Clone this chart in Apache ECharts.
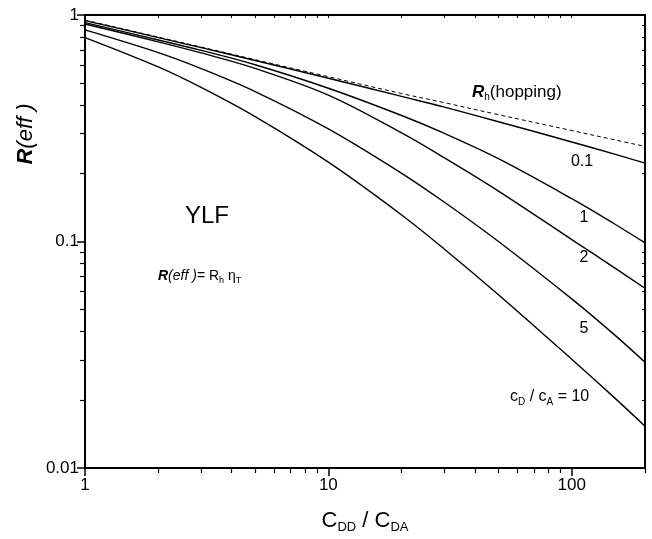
<!DOCTYPE html>
<html>
<head>
<meta charset="utf-8">
<script src="https://cdn.jsdelivr.net/npm/echarts@6/dist/echarts.min.js"></script>
<style>
  html, body { margin: 0; padding: 0; background: #fff; }
  #chart { width: 652px; height: 539px; }
</style>
</head>
<body>
<div id="chart"></div>
<script>
// C_DD / C_DA sample points
const ratioDD_DA = [1, 2, 3, 5, 10, 20, 30, 50, 100, 150, 200];

// R_h (pure hopping) and R(eff) for several c_D / c_A
const hopping = [0.95, 0.799, 0.722, 0.635, 0.534, 0.45, 0.41, 0.363, 0.309, 0.281, 0.263];
const conc01  = [0.945, 0.795, 0.718, 0.63, 0.526, 0.437, 0.392, 0.338, 0.275, 0.243, 0.222];
const conc1   = [0.925, 0.776, 0.698, 0.603, 0.475, 0.36, 0.300, 0.232, 0.1545, 0.1195, 0.0986];
const conc2   = [0.913, 0.761, 0.680, 0.581, 0.443, 0.3015, 0.234, 0.167, 0.102, 0.0765, 0.0622];
const conc5   = [0.859, 0.682, 0.580, 0.459, 0.314, 0.200, 0.149, 0.100, 0.0558, 0.0387, 0.0293];
const conc10  = [0.795, 0.590, 0.479, 0.356, 0.224, 0.131, 0.0925, 0.0582, 0.0302, 0.0204, 0.0153];

// axis ticks
const xMajorTicks = [1, 10, 100];
const xTickLabels = ['1', '10', '100'];
const xMinorTicks = [2, 3, 4, 5, 6, 7, 8, 9, 20, 30, 40, 50, 60, 70, 80, 90, 200];
const yMajorTicks = [0.01, 0.1, 1];
const yTickLabels = ['0.01', '0.1', '1'];
const yMinorTicks = [0.02, 0.03, 0.04, 0.05, 0.06, 0.07, 0.08, 0.09, 0.2, 0.3, 0.4, 0.5, 0.6, 0.7, 0.8, 0.9];

const FONT = '"Liberation Sans", Arial, Helvetica, sans-serif';
const INK = '#000';

function pairs(ys) { return ratioDD_DA.map((x, i) => [x, ys[i]]); }
function labelFor(values, labels) {
  return v => {
    const i = values.findIndex(t => Math.abs(Math.log10(t) - Math.log10(v)) < 1e-6);
    return i >= 0 ? labels[i] : '';
  };
}

function xAxisDef(opts) {
  return Object.assign({
    type: 'log', logBase: 10, min: 1, max: 200, gridIndex: 0,
    splitLine: { show: false }, minorTick: { show: false }, minorSplitLine: { show: false },
    axisLine: { show: false }, axisLabel: { show: false }, axisTick: { show: false }
  }, opts);
}
function yAxisDef(opts) {
  return Object.assign({
    type: 'log', logBase: 10, min: 0.01, max: 1, gridIndex: 0,
    splitLine: { show: false }, minorTick: { show: false }, minorSplitLine: { show: false },
    axisLine: { show: false }, axisLabel: { show: false }, axisTick: { show: false }
  }, opts);
}

const curveStyle = { color: INK, width: 1.4 };
function curve(name, ys, extra) {
  return Object.assign({
    name, type: 'line', xAxisIndex: 0, yAxisIndex: 0, data: pairs(ys),
    showSymbol: false, smooth: 0.35, silent: true,
    lineStyle: Object.assign({}, curveStyle), z: 5
  }, extra || {});
}

const chart = echarts.init(document.getElementById('chart'), null, { renderer: 'canvas' });

chart.setOption({
  animation: false,
  backgroundColor: '#fff',
  textStyle: { fontFamily: FONT, color: INK },
  grid: { left: 85, right: 7, top: 15, bottom: 69, containLabel: false },
  xAxis: [
    xAxisDef({
      position: 'bottom',
      axisLine: { show: true, onZero: false, lineStyle: { color: INK, width: 2 } },
      axisTick: { show: true, inside: false, length: 8, customValues: xMajorTicks, lineStyle: { color: INK, width: 1.5 } },
      axisLabel: { show: true, customValues: xMajorTicks, formatter: labelFor(xMajorTicks, xTickLabels),
                   fontSize: 17, color: INK, fontFamily: FONT, margin: 9 },
      name: '{n|C}{s|DD}{n| / C}{s|DA}', nameLocation: 'middle', nameGap: 40,
      nameTextStyle: {
        rich: {
          n: { fontSize: 22, fontFamily: FONT, color: INK, lineHeight: 26, verticalAlign: 'middle' },
          s: { fontSize: 13, fontFamily: FONT, color: INK, lineHeight: 6, verticalAlign: 'bottom' }
        }
      }
    }),
    xAxisDef({
      position: 'bottom',
      axisTick: { show: true, inside: false, length: 5, customValues: xMinorTicks, lineStyle: { color: INK, width: 1.2 } }
    }),
    xAxisDef({
      position: 'top',
      axisLine: { show: true, onZero: false, lineStyle: { color: INK, width: 2 } },
      axisTick: { show: true, inside: true, length: 3, customValues: xMajorTicks.concat(xMinorTicks), lineStyle: { color: INK, width: 1 } }
    })
  ],
  yAxis: [
    yAxisDef({
      position: 'left',
      axisLine: { show: true, onZero: false, lineStyle: { color: INK, width: 2 } },
      axisTick: { show: true, inside: false, length: 8, customValues: yMajorTicks, lineStyle: { color: INK, width: 1.5 } },
      axisLabel: { show: true, customValues: yMajorTicks, formatter: labelFor(yMajorTicks, yTickLabels),
                   fontSize: 17, color: INK, fontFamily: FONT, margin: 6 }
    }),
    yAxisDef({
      position: 'left',
      axisTick: { show: true, inside: false, length: 5, customValues: yMinorTicks, lineStyle: { color: INK, width: 1.2 } }
    }),
    yAxisDef({
      position: 'right',
      axisLine: { show: true, onZero: false, lineStyle: { color: INK, width: 2 } },
      axisTick: { show: true, inside: true, length: 3, customValues: yMajorTicks.concat(yMinorTicks), lineStyle: { color: INK, width: 1 } }
    })
  ],
  series: [
    curve('R_h (hopping)', hopping, { lineStyle: { color: INK, width: 1, type: [4, 3] }, z: 6 }),
    curve('0.1', conc01),
    curve('1', conc1),
    curve('2', conc2),
    curve('5', conc5),
    curve('10', conc10)
  ],
  graphic: [
    // vertical axis title R(eff)
    {
      type: 'text', x: 26, y: 134, rotation: Math.PI / 2,
      style: {
        text: '{b|R}{i|(eff )}', align: 'center', verticalAlign: 'middle',
        rich: {
          b: { fontSize: 22, fontWeight: 'bold', fontStyle: 'italic', fontFamily: FONT, fill: INK },
          i: { fontSize: 22, fontStyle: 'italic', fontFamily: FONT, fill: INK }
        }
      }
    },
    {
      type: 'text', x: 472, y: 92,
      style: {
        text: '{b|R}{s|h}{n|(hopping)}', align: 'left', verticalAlign: 'middle',
        rich: {
          b: { fontSize: 17, fontWeight: 'bold', fontStyle: 'italic', fontFamily: FONT, fill: INK, lineHeight: 20 },
          s: { fontSize: 10, fontFamily: FONT, fill: INK, lineHeight: 6, verticalAlign: 'bottom' },
          n: { fontSize: 17, fontFamily: FONT, fill: INK, lineHeight: 20 }
        }
      }
    },
    { type: 'text', x: 582, y: 162, style: { text: '0.1', fontSize: 16, fontFamily: FONT, fill: INK, align: 'center', verticalAlign: 'middle' } },
    { type: 'text', x: 584, y: 218, style: { text: '1', fontSize: 16, fontFamily: FONT, fill: INK, align: 'center', verticalAlign: 'middle' } },
    { type: 'text', x: 584, y: 258, style: { text: '2', fontSize: 16, fontFamily: FONT, fill: INK, align: 'center', verticalAlign: 'middle' } },
    { type: 'text', x: 584, y: 329, style: { text: '5', fontSize: 16, fontFamily: FONT, fill: INK, align: 'center', verticalAlign: 'middle' } },
    {
      type: 'text', x: 510, y: 397,
      style: {
        text: '{n|c}{s|D}{n| / c}{s|A}{n| = 10}', align: 'left', verticalAlign: 'middle',
        rich: {
          n: { fontSize: 16, fontFamily: FONT, fill: INK, lineHeight: 20 },
          s: { fontSize: 10, fontFamily: FONT, fill: INK, lineHeight: 6, verticalAlign: 'bottom' }
        }
      }
    },
    { type: 'text', x: 207, y: 216, style: { text: 'YLF', fontSize: 24, fontFamily: FONT, fill: INK, align: 'center', verticalAlign: 'middle' } },
    {
      type: 'text', x: 158, y: 276,
      style: {
        text: '{b|R}{i|(eff )}{n|= R}{s|h}{n| η}{s|T}', align: 'left', verticalAlign: 'middle',
        rich: {
          b: { fontSize: 14, fontWeight: 'bold', fontStyle: 'italic', fontFamily: FONT, fill: INK, lineHeight: 18 },
          i: { fontSize: 14, fontStyle: 'italic', fontFamily: FONT, fill: INK, lineHeight: 18 },
          n: { fontSize: 14, fontFamily: FONT, fill: INK, lineHeight: 18 },
          s: { fontSize: 9, fontFamily: FONT, fill: INK, lineHeight: 5, verticalAlign: 'bottom' }
        }
      }
    }
  ]
});
</script>
</body>
</html>
